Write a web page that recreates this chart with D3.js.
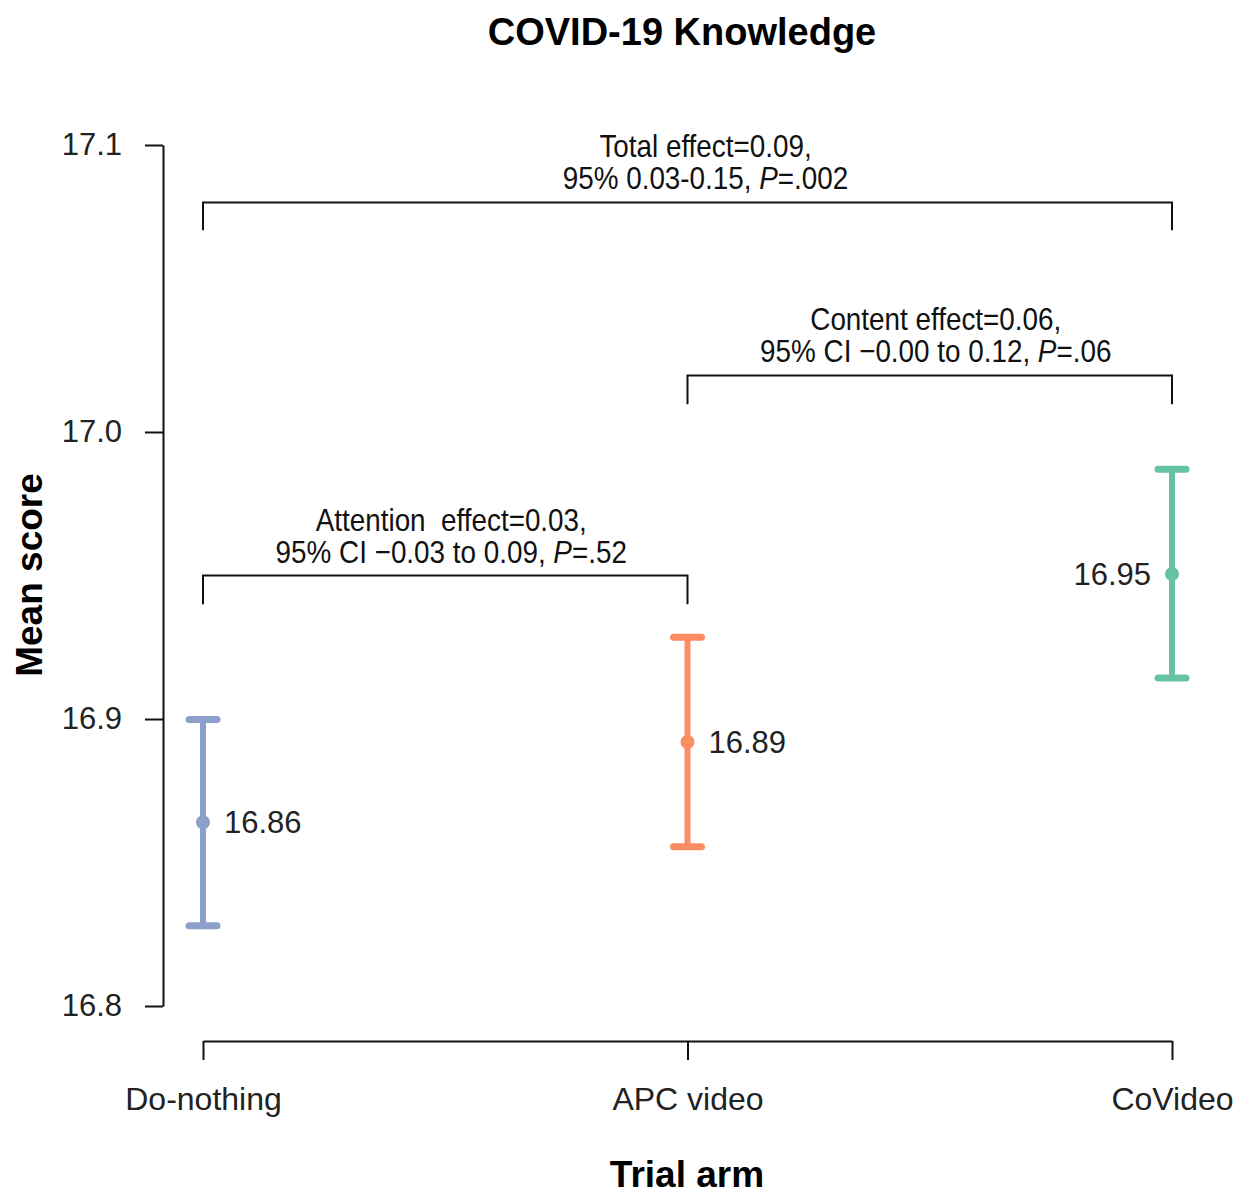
<!DOCTYPE html>
<html>
<head>
<meta charset="utf-8">
<script src="https://cdn.jsdelivr.net/npm/d3@7"></script>
<style>
  body { margin: 0; background: #fff; }
  svg { font-family: "Liberation Sans", Arial, sans-serif; }
</style>
</head>
<body>
<svg></svg>
<script>
const width = 1237;
const height = 1194;
const svg = d3.select('svg').attr('width', width).attr('height', height);

// data
const arms = ['Do-nothing', 'APC video', 'CoVideo'];
const means = [16.864, 16.892, 16.9505];
const lower = [16.828, 16.8555, 16.9143];
const upper = [16.8998, 16.9285, 16.987];
const meanLabels = ['16.86', '16.89', '16.95'];
const armColors = ['#8DA0CB', '#FC8D62', '#66C2A5'];
const yTicks = [16.8, 16.9, 17.0, 17.1];

// comparison brackets
const bracketFrom = ['Do-nothing', 'APC video', 'Do-nothing'];
const bracketTo = ['CoVideo', 'CoVideo', 'APC video'];
const bracketTop = [17.080, 17.0197, 16.950];
const bracketLeg = [17.0703, 17.0097, 16.940];
const bracketLine1 = ['Total effect=0.09,', 'Content effect=0.06,', 'Attention  effect=0.03,'];
const bracketLine2 = ['95% 0.03-0.15, ', '95% CI \u22120.00 to 0.12, ', '95% CI \u22120.03 to 0.09, '];
const bracketP = ['.002', '.06', '.52'];

//Scales
const yScale = d3.scaleLinear().domain([16.8, 17.1]).range([1006, 145]);
const xScale = d3.scalePoint().domain(arms).range([203, 1172]);

//Axes
const yAxis = d3.axisLeft(yScale).tickValues(yTicks)
                .tickFormat(d3.format('.1f'))
                .tickSize(18).tickSizeOuter(0).tickPadding(23);
const xAxis = d3.axisBottom(xScale).tickSize(19).tickSizeOuter(0).tickPadding(27);

const gy = svg.append('g').attr('transform', 'translate(163,0)').call(yAxis);
const gx = svg.append('g').attr('transform', 'translate(0,1041)').call(xAxis);

[gy, gx].forEach(g => {
    g.selectAll('path, line').attr('stroke', '#111').attr('stroke-width', 2);
    g.selectAll('text').attr('fill', '#222')
     .style('font-family', '"Liberation Sans", Arial, sans-serif');
});
gy.selectAll('text').style('font-size', '31px');
gx.selectAll('text').style('font-size', '32px');

//Titles
svg.append('text').attr('x', 682).attr('y', 45)
   .style('text-anchor', 'middle').style('font-size', '38px').style('font-weight', 'bold')
   .text('COVID-19 Knowledge');

svg.append('text').attr('x', 687).attr('y', 1187)
   .style('text-anchor', 'middle').style('font-size', '37px').style('font-weight', 'bold')
   .text('Trial arm');

svg.append('text').attr('transform', 'rotate(-90)')
   .attr('x', -575).attr('y', 42)
   .style('text-anchor', 'middle').style('font-size', '37px').style('font-weight', 'bold')
   .text('Mean score');

//Brackets
const brackets = bracketFrom.map((f, i) => ({
    x0: xScale(f), x1: xScale(bracketTo[i]),
    top: yScale(bracketTop[i]), leg: yScale(bracketLeg[i]),
    l1: bracketLine1[i], l2: bracketLine2[i], p: bracketP[i]
}));

const bg = svg.append('g').selectAll('g').data(brackets).enter().append('g');

bg.append('path')
  .attr('d', d => `M${d.x0},${d.leg}V${d.top}H${d.x1}V${d.leg}`)
  .attr('fill', 'none').attr('stroke', '#111').attr('stroke-width', 2);

const labels = bg.append('g')
  .attr('transform', (d, i) => `translate(${(d.x0 + d.x1) / 2 + (i === 0 ? 18 : 6)},${d.top})`)
  .append('g').attr('transform', 'scale(0.87,1)')
  .style('font-size', '32px').style('text-anchor', 'middle').attr('fill', '#111');

labels.append('text').attr('y', -45).style('white-space', 'pre').text(d => d.l1);
const l2 = labels.append('text').attr('y', -13).style('white-space', 'pre');
l2.append('tspan').text(d => d.l2);
l2.append('tspan').style('font-style', 'italic').text('P');
l2.append('tspan').text(d => '=' + d.p);

//Error bars
const bars = svg.append('g').selectAll('g')
    .data(arms.map((a, i) => ({ arm: a, mean: means[i], lo: lower[i], hi: upper[i], label: meanLabels[i], color: armColors[i], i: i })))
    .enter().append('g')
    .attr('stroke', d => d.color).attr('fill', d => d.color);

bars.append('line')
    .attr('x1', d => xScale(d.arm)).attr('x2', d => xScale(d.arm))
    .attr('y1', d => yScale(d.hi)).attr('y2', d => yScale(d.lo))
    .attr('stroke-width', 6);

bars.selectAll('.cap').data(d => [d.lo, d.hi].map(v => ({ x: xScale(d.arm), y: yScale(v) })))
    .enter().append('line')
    .attr('x1', d => d.x - 14).attr('x2', d => d.x + 14)
    .attr('y1', d => d.y).attr('y2', d => d.y)
    .attr('stroke-width', 7).attr('stroke-linecap', 'round');

bars.append('circle')
    .attr('cx', d => xScale(d.arm)).attr('cy', d => yScale(d.mean))
    .attr('r', 7).attr('stroke', 'none');

bars.append('text')
    .attr('x', d => xScale(d.arm) + (d.i === 2 ? -21 : 21))
    .attr('y', d => yScale(d.mean))
    .attr('dy', '0.35em')
    .attr('stroke', 'none').attr('fill', '#222')
    .style('text-anchor', d => d.i === 2 ? 'end' : 'start')
    .style('font-size', '31px')
    .text(d => d.label);
</script>
</body>
</html>
